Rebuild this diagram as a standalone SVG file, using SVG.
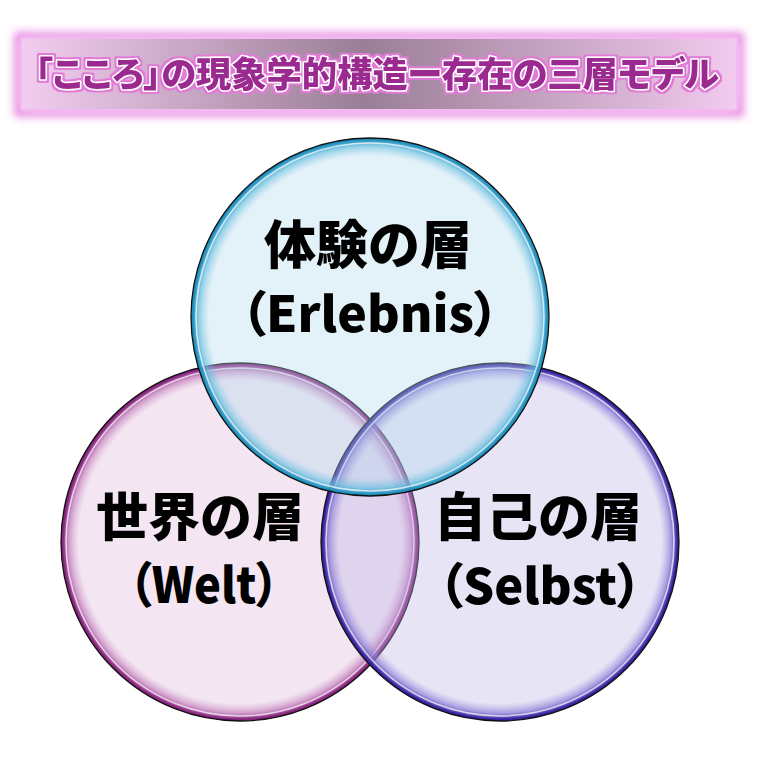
<svg xmlns="http://www.w3.org/2000/svg" width="761" height="762" viewBox="0 0 761 762">
<style>
.jp{font-family:"Noto Sans CJK JP","Noto Sans CJK SC",sans-serif;font-weight:900;fill:#000;text-anchor:middle}
.big{font-size:52px}
.sub{font-size:49px;font-feature-settings:"palt"}
.title{font-family:"Noto Sans CJK JP","Noto Sans CJK SC",sans-serif;font-weight:900;font-size:35px;font-feature-settings:"palt";fill:#9b2b90;stroke:#ffffff;stroke-width:3;paint-order:stroke;stroke-linejoin:round;text-anchor:middle}
.edge{fill:none;stroke:#111;stroke-width:1.3}
.shine{fill:none;stroke:#fff;stroke-width:1.6;stroke-opacity:0.7}
</style>
<defs>
<filter id="glow" x="-10%" y="-60%" width="120%" height="220%">
<feGaussianBlur stdDeviation="4"/>
</filter>
<filter id="txtOut" x="-5%" y="-30%" width="110%" height="160%">
<feMorphology in="SourceAlpha" operator="dilate" radius="2.2" result="d"/>
<feFlood flood-color="#e27ad8"/>
<feComposite in2="d" operator="in" result="o"/>
<feMerge><feMergeNode in="o"/><feMergeNode in="SourceGraphic"/></feMerge>
</filter>
<linearGradient id="bannerGrad" x1="0" x2="1" y1="0" y2="0">
<stop offset="0" stop-color="#f2cdef"/>
<stop offset="0.48" stop-color="#9a7e96"/>
<stop offset="1" stop-color="#f2cbee"/>
</linearGradient>
<radialGradient id="gTop" cx="0.5" cy="0.5" r="0.5">
<stop offset="0" stop-color="#afd7eb" stop-opacity="0.35"/>
<stop offset="0.9" stop-color="#afd7eb" stop-opacity="0.35"/>
<stop offset="0.955" stop-color="#6cc0e0" stop-opacity="0.75"/>
<stop offset="0.99" stop-color="#1f8fbd" stop-opacity="1"/>
<stop offset="1" stop-color="#1f8fbd" stop-opacity="1"/>
</radialGradient>
<radialGradient id="gLeft" cx="0.5" cy="0.5" r="0.5">
<stop offset="0" stop-color="#ddb8da" stop-opacity="0.35"/>
<stop offset="0.9" stop-color="#ddb8da" stop-opacity="0.35"/>
<stop offset="0.955" stop-color="#c37cbc" stop-opacity="0.75"/>
<stop offset="0.99" stop-color="#86237c" stop-opacity="1"/>
<stop offset="1" stop-color="#86237c" stop-opacity="1"/>
</radialGradient>
<radialGradient id="gRight" cx="0.5" cy="0.5" r="0.5">
<stop offset="0" stop-color="#bab2e5" stop-opacity="0.35"/>
<stop offset="0.9" stop-color="#bab2e5" stop-opacity="0.35"/>
<stop offset="0.955" stop-color="#8a7cd6" stop-opacity="0.75"/>
<stop offset="0.99" stop-color="#3622a0" stop-opacity="1"/>
<stop offset="1" stop-color="#3622a0" stop-opacity="1"/>
</radialGradient>
</defs>
<rect width="761" height="762" fill="#ffffff"/>
<g id="title">
<rect x="18" y="36" width="722" height="77" fill="none" stroke="#e67ce0" stroke-width="7" filter="url(#glow)"/>
<rect x="21" y="38" width="716" height="72" fill="url(#bannerGrad)" stroke="#f3b8ef" stroke-width="2"/>
<text class="title" x="377" y="87" textLength="684" lengthAdjust="spacingAndGlyphs" filter="url(#txtOut)">「こころ」の現象学的構造ー存在の三層モデル</text>
</g>
<g id="connectors"></g>
<g id="node-welt">
<circle cx="240" cy="542" r="179" fill="url(#gLeft)"/>
<circle cx="240" cy="542" r="174" class="shine"/>
<circle cx="240" cy="542" r="179" class="edge"/>
</g>
<g id="node-selbst">
<circle cx="500" cy="542" r="179" fill="url(#gRight)"/>
<circle cx="500" cy="542" r="174" class="shine"/>
<circle cx="500" cy="542" r="179" class="edge"/>
</g>
<g id="node-erlebnis">
<circle cx="370" cy="317" r="179" fill="url(#gTop)"/>
<circle cx="370" cy="317" r="174" class="shine"/>
<circle cx="370" cy="317" r="179" class="edge"/>
</g>
<g id="labels">
<text class="jp big" x="368" y="264">体験の層</text>
<text class="jp sub" x="370" y="332" textLength="258" lengthAdjust="spacingAndGlyphs">（Erlebnis）</text>
<text class="jp big" x="200" y="536">世界の層</text>
<text class="jp sub" x="204" y="603" textLength="150" lengthAdjust="spacingAndGlyphs">（Welt）</text>
<text class="jp big" x="538" y="536">自己の層</text>
<text class="jp sub" x="540" y="604" textLength="203" lengthAdjust="spacingAndGlyphs">（Selbst）</text>
</g>
</svg>
